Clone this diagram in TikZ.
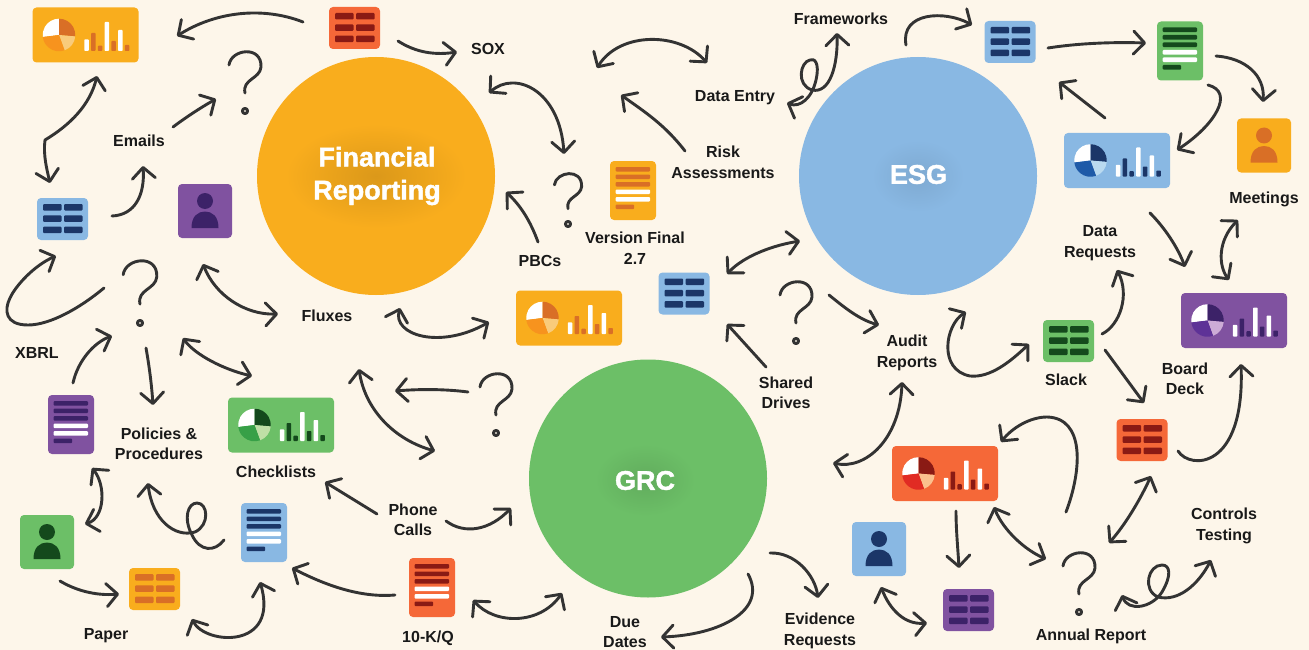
\documentclass[tikz,border=0pt]{standalone}
\usepackage{fontspec}
\setmainfont{Liberation Sans}
\newfontfamily\headfont{Liberation Sans}[UprightFont=* Bold, FakeBold=1.5]
\usepackage{xcolor}
\usepackage{tikz}
\usetikzlibrary{arrows.meta}
\definecolor{paper}{HTML}{FDF6EA}
\definecolor{ink}{HTML}{333333}
\definecolor{orangebg}{HTML}{F9AD1D}
\definecolor{orangedark}{HTML}{D96F26}
\definecolor{orangelight}{HTML}{F9CB7B}
\definecolor{orangemid}{HTML}{F7931E}
\definecolor{bluebg}{HTML}{89B8E3}
\definecolor{bluedark}{HTML}{1B3668}
\definecolor{bluelight}{HTML}{BADAF0}
\definecolor{bluemid}{HTML}{1E5AA8}
\definecolor{greenbg}{HTML}{6CBF67}
\definecolor{greendark}{HTML}{14491C}
\definecolor{greenlight}{HTML}{BFDFA6}
\definecolor{greenmid}{HTML}{37A047}
\definecolor{redbg}{HTML}{F56838}
\definecolor{reddark}{HTML}{8A1A14}
\definecolor{redlight}{HTML}{FBC08E}
\definecolor{redmid}{HTML}{E12B23}
\definecolor{purplebg}{HTML}{8052A0}
\definecolor{purpledark}{HTML}{3C2268}
\definecolor{purplelight}{HTML}{CDACD6}
\definecolor{purplemid}{HTML}{5E3297}
\tikzset{>={Straight Barb[length=11pt,width=23pt,round]}}
\tikzset{
  hand/.style={draw=ink, line width=2.9pt, line cap=round, line join=round},
  lab/.style={font=\bfseries\fontsize{16}{20.5}\selectfont, text=black!90, align=center, inner sep=0pt},
  head/.style={font=\headfont\fontsize{27}{33}\selectfont, text=white, align=center, inner sep=0pt},
  icon/.style={rounded corners=4pt, inner sep=0pt, outer sep=0pt},
  disc/.style={circle, inner sep=0pt, minimum size=238pt}
}
\newcommand{\sheeticon}[3]{
  \node[icon, fill=#3bg, minimum width=51pt, minimum height=42pt] (#1) at (#2) {};
  \begin{scope}[shift={(#2)}]
    \foreach \x in {-19.5,1.5}
      \foreach \y in {-15,-3.7,7.7}
        \fill[#3dark, rounded corners=1pt] (\x,\y) rectangle ++(18.5,6.5);
  \end{scope}
}
\newcommand{\docicon}[3]{
  \node[icon, fill=#3bg, minimum width=46pt, minimum height=59pt] (#1) at (#2) {};
  \begin{scope}[shift={(#2)}]
    \foreach \y/\w/\c in {-23.5/34.3/#3dark,-16/34.3/#3dark,-8.5/34.3/#3dark,-1/34.3/white,6.5/34.3/white,14/18.5/#3dark}
      \fill[\c, rounded corners=1pt] (-17.3,\y) rectangle ++(\w,4.7);
  \end{scope}
}
\newcommand{\personicon}[3]{
  \node[icon, fill=#3bg, minimum width=54pt, minimum height=54pt] (#1) at (#2) {};
  \begin{scope}[shift={(#2)}]
    \fill[#3dark] (0,-10) circle (8);
    \fill[#3dark] (-13.5,17) .. controls (-13.5,5) and (-7,0.5) .. (0,0.5) .. controls (7,0.5) and (13.5,5) .. (13.5,17) -- cycle;
  \end{scope}
}
\newcommand{\charticon}[3]{
  \node[icon, fill=#3bg, minimum width=106pt, minimum height=55pt] (#1) at (#2) {};
  \begin{scope}[shift={(#2)}]
    \foreach \i/\h/\c in {0/11.7/white,1/18/#3dark,2/5.3/#3dark,3/29/white,4/10/#3dark,5/21/white,6/6/#3dark}
      \fill[\c, rounded corners=0.8pt] ({-1.2+\i*6.75},16) rectangle ++(4.5,-\h);
    \begin{scope}[shift={(-26.5,0)}, x=1pt, y=1pt]
      \fill[white] (0,0) -- (90:16.3) arc[start angle=90, end angle=187, radius=16.3] -- cycle;
      \fill[#3dark] (0,0) -- (90:16.3) arc[start angle=90, end angle=-5, radius=16.3] -- cycle;
      \fill[#3light] (0,0) -- (-5:16.3) arc[start angle=-5, end angle=-70, radius=16.3] -- cycle;
      \fill[#3mid] (0,0) -- (-70:16.3) arc[start angle=-70, end angle=-173, radius=16.3] -- cycle;
    \end{scope}
  \end{scope}
}
\newcommand{\qmark}[2][1]{
  \begin{scope}[shift={(#2)}]
    \draw[hand, scale=#1] (-16,-46) .. controls (-14,-62) and (17,-66) .. (16,-44) .. controls (15,-32) and (-3,-32) .. (0,-18);
    \draw[hand] (0,0) circle (2.6);
  \end{scope}
}
\begin{document}
\begin{tikzpicture}[x=1pt, y=-1pt]
      \useasboundingbox (0,0) rectangle (1309,650);
      \fill[paper] (0,0) rectangle (1309,650);

      \node[disc, fill=orangebg] (fin) at (376,176) {};
      \node[disc, fill=bluebg] (esg) at (918,176) {};
      \node[disc, fill=greenbg] (grc) at (648,478.5) {};
      \shade[inner color=orangebg!88!black, outer color=orangebg] (376,176) ellipse (90 and 52);
      \shade[inner color=bluebg!92!black, outer color=bluebg] (918,176) ellipse (46 and 36);
      \shade[inner color=greenbg!90!black, outer color=greenbg] (645,480) ellipse (50 and 36);
      \node[head] (finlab) at (377,176) {Financial\\Reporting};
      \node[head] (esglab) at (918.5,174.5) {ESG};
      \node[head] (grclab) at (645,480.5) {GRC};

      \charticon{charttop}{85.5,35}{orange}
      \charticon{chartmid}{569,318}{orange}
      \charticon{chartesg}{1117,160.5}{blue}
      \charticon{chartboard}{1234,320.5}{purple}
      \charticon{chartcheck}{281,425}{green}
      \charticon{chartaudit}{945,473.5}{red}

      \sheeticon{sheetsox}{354.5,28}{red}
      \sheeticon{sheetleft}{62.5,219}{blue}
      \sheeticon{sheetpaper}{154.5,589}{orange}
      \sheeticon{sheetmid}{684,293.5}{blue}
      \sheeticon{sheetframe}{1010,42}{blue}
      \sheeticon{sheetslack}{1068.5,341}{green}
      \sheeticon{sheetctrl}{1142,440}{red}
      \sheeticon{sheetbottom}{968.5,610}{purple}

      \docicon{docxbrl}{71,424.5}{purple}
      \docicon{docpol}{264,532.5}{blue}
      \docicon{docver}{633,190.5}{orange}
      \docicon{docten}{432,587.5}{red}
      \docicon{docgreen}{1180,51}{green}

      \personicon{personfin}{205,211}{purple}
      \personicon{persongrc}{47,542}{green}
      \personicon{personmeet}{1264,145.5}{orange}
      \personicon{personblue}{879,549}{blue}

      \node[lab] (emails) at (139,141) {Emails};
      \node[lab] (sox) at (488,49) {SOX};
      \node[lab] (frameworks) at (841,19) {Frameworks};
      \node[lab] (dataentry) at (735,98) {Data Entry};
      \node[lab] (risk) at (723,162.5) {Risk\\Assessments};
      \node[lab] (meetings) at (1264,199) {Meetings};
      \node[lab] (datareq) at (1100,243) {Data\\Requests};
      \node[lab] (pbcs) at (540,261) {PBCs};
      \node[lab] (version) at (635,248) {Version Final\\2.7};
      \node[lab] (fluxes) at (327,316) {Fluxes};
      \node[lab] (xbrl) at (37,353) {XBRL};
      \node[lab] (policies) at (159,444) {Policies \&\\Procedures};
      \node[lab] (checklists) at (276,472) {Checklists};
      \node[lab] (phone) at (413,520) {Phone\\Calls};
      \node[lab] (shared) at (786,393) {Shared\\Drives};
      \node[lab] (audit) at (907,353) {Audit\\Reports};
      \node[lab] (slack) at (1066,380) {Slack};
      \node[lab] (board) at (1185,379) {Board\\Deck};
      \node[lab] (controls) at (1224,526) {Controls\\Testing};
      \node[lab] (annual) at (1091,636) {Annual Report};
      \node[lab] (evidence) at (820,631) {Evidence\\Requests};
      \node[lab] (due) at (625,632) {Due\\Dates};
      \node[lab] (paperlab) at (106,636) {Paper};
      \node[lab] (tenk) at (428,638) {10-K/Q};

      \qmark{245,111}
      \qmark[1.05]{140,323}
      \qmark[0.85]{568,224}
      \qmark{796,341}
      \qmark{496,433}
      \qmark{1079,612}

      \coordinate (A1) at (303,22); \coordinate (B1) at (177,36);
      \draw[hand,->] (A1) .. controls (262,6) and (215,12) .. (B1);
      \coordinate (A2) at (97,76); \coordinate (B2) at (50,183);
      \draw[hand,<->] (A2) .. controls (90,105) and (70,125) .. (45,140) .. controls (43,155) and (47,170) .. (B2);
      \coordinate (A3) at (112,216); \coordinate (B3) at (143,166);
      \draw[hand,->] (A3) .. controls (135,215) and (145,195) .. (B3);
      \coordinate (A4) at (173,127); \coordinate (B4) at (216,99);
      \draw[hand,->] (A4) .. controls (185,118) and (200,108) .. (B4);
      \coordinate (A5) at (104,288); \coordinate (B5) at (56,256);
      \draw[hand,->] (A5) .. controls (80,308) and (50,325) .. (28,325) .. controls (5,325) and (4,310) .. (10,298) .. controls (16,285) and (35,265) .. (B5);
      \coordinate (A6) at (203,264); \coordinate (B6) at (278,314);
      \draw[hand,<->] (A6) .. controls (215,295) and (245,315) .. (B6);
      \coordinate (A7) at (398,41); \coordinate (B7) at (457,52);
      \draw[hand,->] (A7) .. controls (412,50) and (430,56) .. (B7);
      \coordinate (A8) at (489,93); \coordinate (B8) at (564,154);
      \draw[hand,<->] (A8) .. controls (515,70) and (560,90) .. (B8);
      \coordinate (A9) at (597,68); \coordinate (B9) at (707,63);
      \draw[hand,<->] (A9) .. controls (620,31) and (680,32) .. (B9);
      \coordinate (A10) at (685,151); \coordinate (B10) at (621,95);
      \draw[hand,->] (A10) .. controls (665,125) and (645,112) .. (B10);
      \coordinate (A11) at (787,103); \coordinate (B11) at (837,33);
      \draw[hand,<->] (A11) .. controls (800,108) and (812,98) .. (816,80) .. controls (820,62) and (814,58) .. (810,60) .. controls (800,62) and (796,85) .. (812,90) .. controls (830,94) and (838,65) .. (B11);
      \coordinate (A12) at (538,242); \coordinate (B12) at (506,192);
      \draw[hand,->] (A12) .. controls (530,220) and (520,205) .. (B12);
      \coordinate (A13) at (727,274); \coordinate (B13) at (800,241);
      \draw[hand,<->] (A13) .. controls (745,255) and (775,245) .. (B13);
      \coordinate (A14) at (400,308); \coordinate (B14) at (489,322);
      \draw[hand,<->] (A14) .. controls (392,335) and (440,350) .. (B14);
      \coordinate (A15) at (73,383); \coordinate (B15) at (112,336);
      \draw[hand,->] (A15) .. controls (78,360) and (95,342) .. (B15);
      \coordinate (A16) at (146,348); \coordinate (B16) at (153,405);
      \draw[hand,->] (A16) .. controls (150,370) and (152,390) .. (B16);
      \coordinate (A17) at (183,338); \coordinate (B17) at (252,376);
      \draw[hand,<->] (A17) .. controls (195,355) and (225,370) .. (B17);
      \coordinate (A18) at (359,369); \coordinate (B18) at (435,451);
      \draw[hand,<->] (A18) .. controls (365,410) and (395,440) .. (B18);
      \coordinate (A19) at (468,392); \coordinate (B19) at (395,391);
      \draw[hand,->] (A19) .. controls (445,389) and (420,389) .. (B19);
      \coordinate (A20) at (224,540); \coordinate (B20) at (148,483);
      \draw[hand,->] (A20) .. controls (215,552) and (200,552) .. (192,535) .. controls (183,518) and (188,503) .. (197,503) .. controls (208,503) and (210,525) .. (195,532) .. controls (175,538) and (152,520) .. (B20);
      \coordinate (A21) at (377,514); \coordinate (B21) at (325,482);
      \draw[hand,->] (A21) -- (B21);
      \coordinate (A22) at (92,468); \coordinate (B22) at (85,524);
      \draw[hand,<->] (A22) .. controls (106,485) and (105,518) .. (B22);
      \coordinate (A23) at (60,581); \coordinate (B23) at (119,594);
      \draw[hand,->] (A23) .. controls (75,590) and (95,596) .. (B23);
      \coordinate (A24) at (192,619); \coordinate (B24) at (260,582);
      \draw[hand,<->] (A24) .. controls (205,645) and (280,650) .. (B24);
      \coordinate (A25) at (395,595); \coordinate (B25) at (292,568);
      \draw[hand,->] (A25) .. controls (360,598) and (325,585) .. (B25);
      \coordinate (A26) at (446,521); \coordinate (B26) at (511,508);
      \draw[hand,->] (A26) .. controls (465,535) and (490,530) .. (B26);
      \coordinate (A27) at (473,600); \coordinate (B27) at (562,593);
      \draw[hand,<->] (A27) .. controls (495,625) and (540,625) .. (B27);
      \coordinate (A28) at (766,367); \coordinate (B28) at (727,324);
      \draw[hand,->] (A28) -- (B28);
      \coordinate (A29) at (748,574); \coordinate (B29) at (661,637);
      \draw[hand,->] (A29) .. controls (768,610) and (720,635) .. (B29);
      \coordinate (A30) at (770,553); \coordinate (B30) at (818,598);
      \draw[hand,->] (A30) .. controls (795,552) and (815,575) .. (B30);
      \coordinate (A31) at (833,463); \coordinate (B31) at (902,382);
      \draw[hand,<->] (A31) .. controls (865,470) and (900,440) .. (B31);
      \coordinate (A32) at (966,312); \coordinate (B32) at (1029,344);
      \draw[hand,<->] (A32) .. controls (945,325) and (938,370) .. (970,376) .. controls (990,378) and (1010,362) .. (B32);
      \coordinate (A33) at (829,295); \coordinate (B33) at (879,325);
      \draw[hand,->] (A33) .. controls (845,308) and (860,320) .. (B33);
      \coordinate (A34) at (1102,334); \coordinate (B34) at (1117,270);
      \draw[hand,->] (A34) .. controls (1120,325) and (1130,295) .. (B34);
      \coordinate (A35) at (1105,350); \coordinate (B35) at (1144,403);
      \draw[hand,->] (A35) -- (B35);
      \coordinate (A36) at (1178,451); \coordinate (B36) at (1241,364);
      \draw[hand,->] (A36) .. controls (1190,470) and (1245,470) .. (B36);
      \coordinate (A37) at (1151,476); \coordinate (B37) at (1109,543);
      \draw[hand,<->] (A37) .. controls (1140,500) and (1125,525) .. (B37);
      \coordinate (A38) at (1066,512); \coordinate (B38) at (1001,442);
      \draw[hand,->] (A38) .. controls (1082,470) and (1085,418) .. (1047,417) .. controls (1030,417) and (1012,428) .. (B38);
      \coordinate (A39) at (956,511); \coordinate (B39) at (959,568);
      \draw[hand,->] (A39) .. controls (956,530) and (958,550) .. (B39);
      \coordinate (A40) at (994,507); \coordinate (B40) at (1046,559);
      \draw[hand,<->] (A40) .. controls (1003,530) and (1025,550) .. (B40);
      \coordinate (A41) at (1122,595); \coordinate (B41) at (1211,560);
      \draw[hand,<->] (A41) .. controls (1128,612) and (1152,608) .. (1162,592) .. controls (1172,575) and (1170,565) .. (1162,565) .. controls (1148,565) and (1142,590) .. (1158,597) .. controls (1178,602) and (1198,585) .. (B41);
      \coordinate (A42) at (881,587); \coordinate (B42) at (927,623);
      \draw[hand,<->] (A42) .. controls (890,610) and (905,625) .. (B42);
      \coordinate (A43) at (906,45); \coordinate (B43) at (972,25);
      \draw[hand,->] (A43) .. controls (900,12) and (945,10) .. (B43);
      \coordinate (A44) at (1048,48); \coordinate (B44) at (1146,43);
      \draw[hand,->] (A44) .. controls (1080,43) and (1115,42) .. (B44);
      \coordinate (A45) at (1216,56); \coordinate (B45) at (1263,102);
      \draw[hand,->] (A45) .. controls (1245,58) and (1265,75) .. (B45);
      \coordinate (A46) at (1208,85); \coordinate (B46) at (1177,150);
      \draw[hand,->] (A46) .. controls (1235,92) and (1215,125) .. (B46);
      \coordinate (A47) at (1105,118); \coordinate (B47) at (1059,82);
      \draw[hand,->] (A47) -- (B47);
      \coordinate (A48) at (1150,213); \coordinate (B48) at (1185,267);
      \draw[hand,->] (A48) .. controls (1165,228) and (1178,248) .. (B48);
      \coordinate (A49) at (1238,220); \coordinate (B49) at (1229,280);
      \draw[hand,<->] (A49) .. controls (1218,240) and (1218,265) .. (B49);
\end{tikzpicture}
\end{document}
